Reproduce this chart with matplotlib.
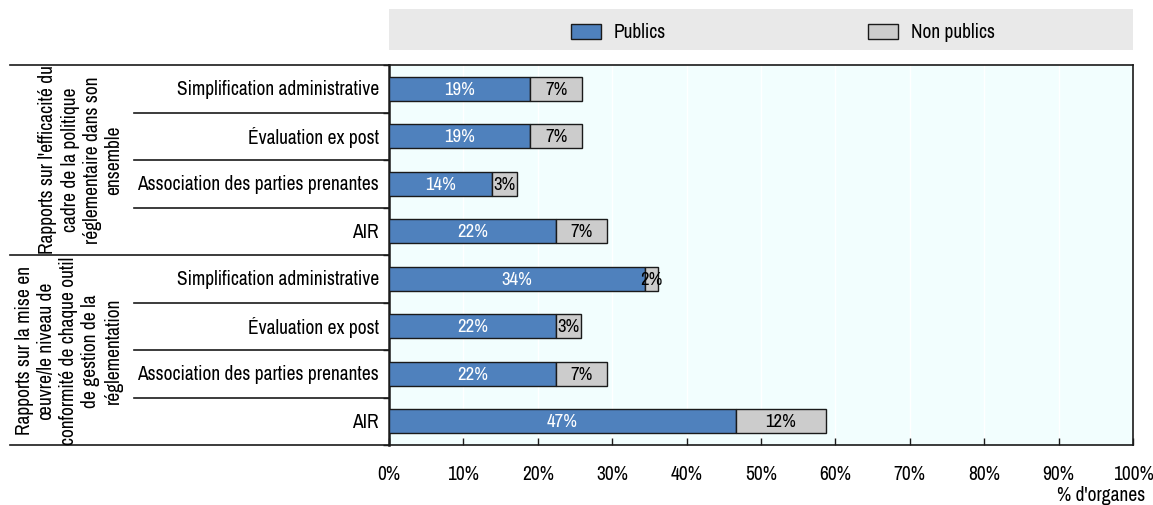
import matplotlib
matplotlib.use("Agg")
import matplotlib.pyplot as plt
from matplotlib import font_manager as fm
from matplotlib.patches import Rectangle
from matplotlib.lines import Line2D
import numpy as np

categories = ["Simplification administrative", "Évaluation ex post",
              "Association des parties prenantes", "AIR",
              "Simplification administrative", "Évaluation ex post",
              "Association des parties prenantes", "AIR"]
groups = ["Rapports sur l'efficacité du\ncadre de la politique\nréglementaire dans son\nensemble",
          "Rapports sur la mise en\nœuvre/le niveau de\nconformité de chaque outil\nde gestion de la\nréglementation"]
publics = [19.0, 19.0, 13.8, 22.4, 34.4, 22.4, 22.4, 46.6]
non_publics = [6.9, 6.9, 3.4, 6.9, 1.7, 3.4, 6.9, 12.1]
series_names = ["Publics", "Non publics"]
xticks = list(range(0, 101, 10))
xlabel = "% d'organes"

# ---- font selection: prefer a narrow Arial-like face ----
def _regular(f):
    return f.style == "normal" and f.weight in (400, "normal", "regular", "book")

family = None
scale = 1.0
stretch = "normal"
cands = [f for f in fm.fontManager.ttflist
         if ("Narrow" in f.name or "Narrow" in f.fname) and _regular(f)]
cands.sort(key=lambda f: 0 if "Liberation" in f.name else 1)
if cands:
    family = cands[0].name
if family is None:
    for f in fm.fontManager.ttflist:
        if "DejaVu" in f.name and ("Condensed" in f.name or "Condensed" in f.fname) \
                and "Mono" not in f.name and "Serif" not in f.name and _regular(f):
            family = f.name
            stretch = f.stretch
            scale = 0.86
            break
if family is None:
    family = "Liberation Sans"
    scale = 0.82
plt.rcParams['font.family'] = [family, 'DejaVu Sans']
plt.rcParams['font.stretch'] = stretch
FS = 14 * scale
FSB = 13.5 * scale

W, H = 1153, 506
fig = plt.figure(figsize=(W / 100, H / 100), dpi=100)
L, R, T, B = 389, 1133, 66, 446
ax = fig.add_axes([L / W, 1 - B / H, (R - L) / W, (B - T) / H])

blue = "#4F81BD"
grey = "#CCCCCC"
edge = "#1a1a1a"
n = len(categories)
y = np.arange(n)
ax.barh(y, publics, height=0.5, color=blue, edgecolor=edge, linewidth=1, zorder=3)
ax.barh(y, non_publics, left=publics, height=0.5, color=grey, edgecolor=edge, linewidth=1, zorder=3)
for i in range(n):
    ax.text(publics[i] / 2, y[i], f"{publics[i]:.0f}%", ha="center", va="center",
            color="white", fontsize=FSB, zorder=4)
    ax.text(publics[i] + non_publics[i] / 2, y[i], f"{non_publics[i]:.0f}%", ha="center",
            va="center", color="black", fontsize=FSB, zorder=4)

ax.set_xlim(0, 100)
ax.set_ylim(n - 0.5, -0.5)
ax.set_facecolor("#F2FEFE")
ax.set_xticks(xticks)
ax.set_xticklabels([f"{v}%" for v in xticks], fontsize=FS)
ax.tick_params(axis="x", direction="in", length=5, width=1, pad=14, color=edge)
ax.set_yticks(np.arange(n + 1) - 0.5)
ax.set_yticklabels([])
ax.tick_params(axis="y", direction="out", length=4, width=1, color=edge)
ax.grid(axis="x", color="white", linewidth=1, zorder=1)
ax.set_axisbelow(True)
for s in ["left", "bottom", "right", "top"]:
    ax.spines[s].set_color(edge)
    ax.spines[s].set_linewidth(1.2)
ax.spines["left"].set_linewidth(1.8)

# category labels
row_h = (B - T) / n
for i, c in enumerate(categories):
    yc = T + (i + 0.5) * row_h
    fig.text((L - 10) / W, 1 - yc / H, c, ha="right", va="center", fontsize=FS)

# separators
for k in range(n + 1):
    yy = 1 - (T + k * row_h) / H
    x0 = 10 if k in (0, 4, 8) else 134
    fig.add_artist(Line2D([x0 / W, L / W], [yy, yy], color=edge, linewidth=1.2))

# group labels
fig.text(81 / W, 1 - 160 / H, groups[0], rotation=90, ha="center", va="center",
         multialignment="center", fontsize=FS, linespacing=1.2)
fig.text(69 / W, 1 - 351 / H, groups[1], rotation=90, ha="center", va="center",
         multialignment="center", fontsize=FS, linespacing=1.2)

fig.text(1145 / W, 1 - 496 / H, xlabel, ha="right", va="center", fontsize=FS)

# legend band
fig.add_artist(Rectangle((L / W, 1 - 51 / H), (R - L) / W, 41 / H,
                         facecolor="#E9E9E9", edgecolor="none", transform=fig.transFigure))
for x0, col, name in [(571, blue, series_names[0]), (868, grey, series_names[1])]:
    fig.add_artist(Rectangle((x0 / W, 1 - 40 / H), 30 / W, 15 / H, facecolor=col,
                             edgecolor=edge, linewidth=1, transform=fig.transFigure))
    fig.text((x0 + 43) / W, 1 - 32 / H, name, ha="left", va="center", fontsize=FS)

fig.savefig("out.png", dpi=100)
